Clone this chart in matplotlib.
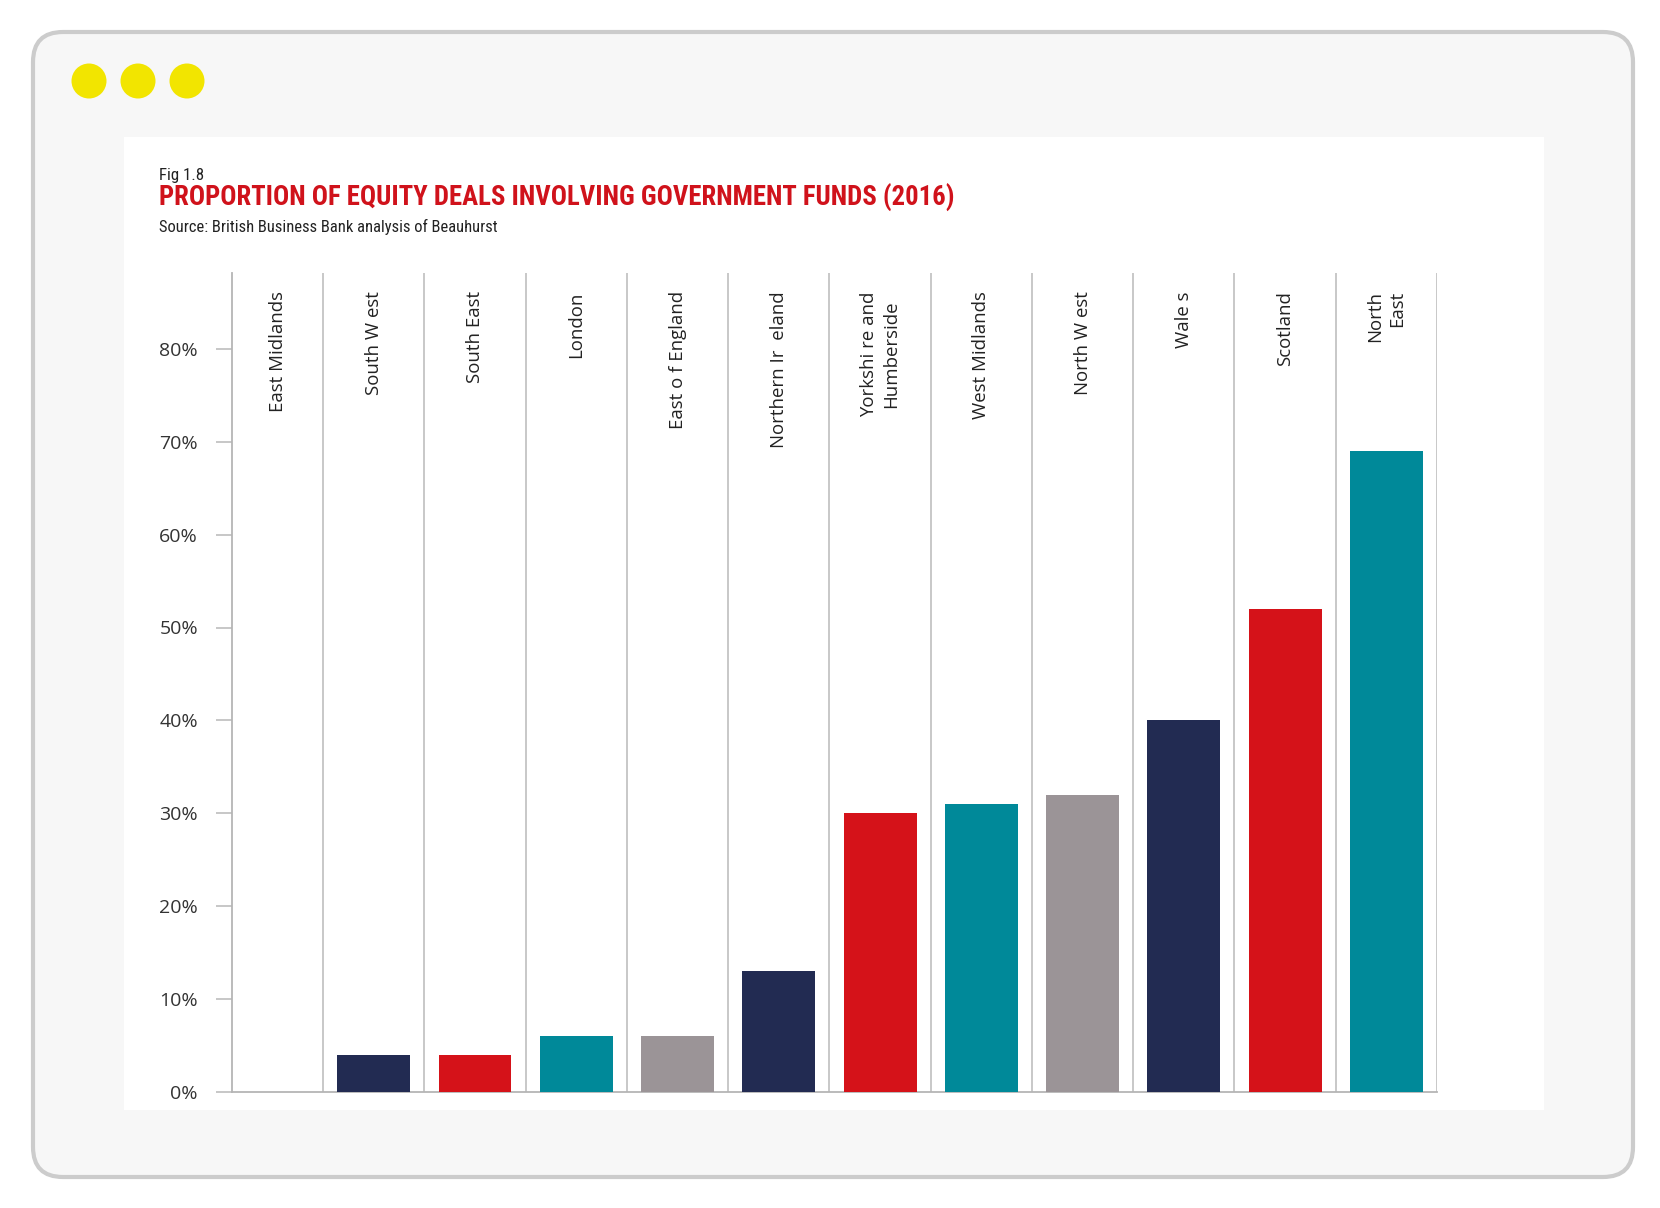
import matplotlib.pyplot as plt
from matplotlib.patches import FancyBboxPatch, Rectangle, Circle

regions = ["East Midlands", "South W est", "South East", "London", "East o f England",
           "Northern Ir  eland", "Yorkshi re and\nHumberside", "West Midlands", "North W est",
           "Wale s", "Scotland", "North\nEast"]
share = [0, 4, 4, 6, 6, 13, 30, 31, 32, 40, 52, 69]
yticks = [0, 10, 20, 30, 40, 50, 60, 70, 80]
ytick_labels = [f"{t}%" for t in yticks]

navy, red, teal, grey = "#222b52", "#d51219", "#008999", "#9b9497"
bar_colors = [grey, navy, red, teal, grey, navy, red, teal, grey, navy, red, teal]

W, H = 1660, 1208
fig = plt.figure(figsize=(W / 100, H / 100), dpi=100)
fig.patch.set_facecolor("white")
inch = fig.dpi_scale_trans


def px(x, y):
    # pixel coords from top-left -> inches from bottom-left
    return x / 100, (H - y) / 100


# outer window frame
x0, y0 = px(33, 1177)
frame = FancyBboxPatch((x0 + 0.3, y0 + 0.3), (1633 - 33) / 100 - 0.6, (1177 - 32) / 100 - 0.6,
                       boxstyle="round,pad=0.3", transform=inch, zorder=-10,
                       facecolor="#f7f7f7", edgecolor="#cccccc", linewidth=3)
fig.add_artist(frame)

for cx in [89, 138, 187]:
    fig.add_artist(Circle(px(cx, 81), 0.175, transform=inch, facecolor="#f2e500",
                          edgecolor="none", zorder=-9))

# white panel
fig.add_artist(Rectangle(px(124, 1110), (1544 - 124) / 100, (1110 - 137) / 100,
                         transform=inch, facecolor="white", edgecolor="none", zorder=-9))

narrow = ["Roboto Condensed", "DejaVu Sans"]
fig.text(*px(159, 180), "Fig 1.8", transform=inch, fontsize=12.2, color="#222222",
         family=narrow, fontstretch="condensed", va="baseline")
fig.text(*px(159, 206), "PROPORTION OF EQUITY DEALS INVOLVING GOVERNMENT FUNDS (2016)",
         transform=inch, fontsize=19.3, color="#d0121b", fontweight="bold",
         family=narrow, fontstretch="condensed", va="baseline")
fig.text(*px(159, 232), "Source: British Business Bank analysis of Beauhurst", transform=inch,
         fontsize=11.9, color="#222222", family=narrow, fontstretch="condensed", va="baseline")

# chart axes
left, right, bottom, top = 232, 1437, 1092, 273
ax = fig.add_axes([left / W, (H - bottom) / H, (right - left) / W, (bottom - top) / H])
ax.set_facecolor("none")
xs = list(range(len(regions)))
ax.bar(xs, share, width=0.72, color=bar_colors, zorder=3)
ax.set_xlim(-0.4, len(regions) - 0.5)
ax.set_ylim(0, (bottom - top) / 92.9 * 10)

for i in xs:
    ax.axvline(i + 0.5, color="#c8c8c8", linewidth=1.4, zorder=1)

label_align = {"Yorkshi re and\nHumberside": "center"}
for i, name in enumerate(regions):
    xc = 0.05 if i == 0 else i
    ax.text(xc, 86.2, name, rotation=90, ha="center", va="top", fontsize=13.4,
            color="#222222", family=["Open Sans", "DejaVu Sans"], linespacing=1.3,
            multialignment=label_align.get(name, "right"))

ax.set_yticks(yticks)
ax.set_yticklabels(ytick_labels, fontsize=14, color="#333333", family=["Open Sans", "DejaVu Sans"])
ax.tick_params(axis="y", length=11.5, width=1.2, color="#bdbdbd", pad=13)
ax.set_xticks([])
for s in ["top", "right"]:
    ax.spines[s].set_visible(False)
ax.spines["left"].set_color("#b5b5b5")
ax.spines["bottom"].set_color("#b5b5b5")
ax.spines["left"].set_linewidth(1.3)
ax.spines["bottom"].set_linewidth(1.3)

fig.savefig("out.png", dpi=100)
